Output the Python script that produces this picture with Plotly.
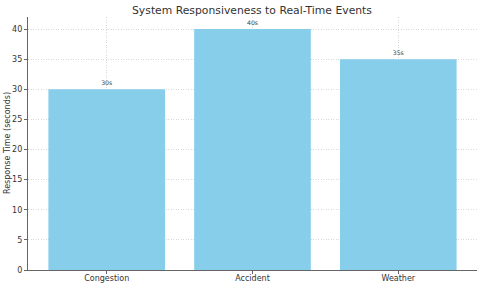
import plotly.graph_objects as go

categories = ["Congestion", "Accident", "Weather"]
response_times = [30, 40, 35]
bar_labels = ["30s", "40s", "35s"]
y_ticks = [0, 5, 10, 15, 20, 25, 30, 35, 40]

fig = go.Figure()
fig.add_trace(go.Bar(
    x=list(range(len(categories))), y=response_times, width=0.8,
    marker=dict(color="#87CEEB", line=dict(width=0)),
    text=bar_labels, textposition="outside", cliponaxis=False,
    textfont=dict(family="DejaVu Sans", size=6.2, color="#444444"),
))
fig.update_layout(
    width=480, height=286,
    margin=dict(l=28, r=3, t=17, b=16, autoexpand=False),
    paper_bgcolor="white", plot_bgcolor="white",
    font=dict(family="DejaVu Sans", color="#333333"),
    title=dict(text="System Responsiveness to Real-Time Events", x=0.525, xanchor="center",
               y=0.965, yanchor="middle", font=dict(size=10.8, color="#333333")),
    showlegend=False, bargap=0.2,
    annotations=[dict(text="Response Time (seconds)", xref="paper", yref="paper",
                      x=0, y=0.5, xanchor="center", yanchor="middle", xshift=-20.5,
                      textangle=-90, showarrow=False,
                      font=dict(size=8, color="#333333"))],
)
grid = dict(showgrid=True, gridcolor="#d9d9d9", griddash="1px,1.5px", gridwidth=0.8)
fig.update_xaxes(
    range=[-0.54, 2.54], tickvals=list(range(len(categories))), ticktext=categories,
    showline=True, linecolor="#666666", linewidth=1.2,
    ticks="outside", ticklen=3, tickcolor="#666666", ticklabelstandoff=-3,
    tickfont=dict(size=8, color="#333333"), layer="above traces", zeroline=False,
    automargin=False, **grid,
)
fig.update_yaxes(
    range=[0, 42], tickvals=y_ticks,
    showline=True, linecolor="#666666", linewidth=1.2,
    ticks="outside", ticklen=3, tickcolor="#666666",
    tickfont=dict(size=8, color="#333333"), layer="above traces", zeroline=False,
    automargin=False, **grid,
)
fig.write_html("out.html", config={"displayModeBar": False},
               post_script="document.body.style.margin='0';")
